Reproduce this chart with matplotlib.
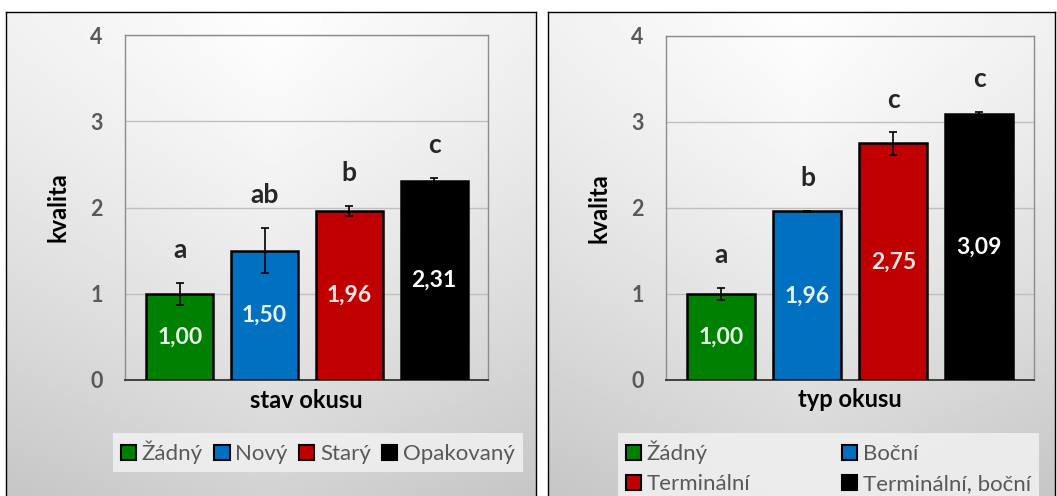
import numpy as np
import matplotlib
matplotlib.use('Agg')
import matplotlib.pyplot as plt
from matplotlib.patches import Patch

plt.rcParams['font.family'] = ['Lato', 'DejaVu Sans']

# ── data ──────────────────────────────────────────────────────────────────
cats_left   = ['Žádný', 'Nový', 'Starý', 'Opakovaný']
vals_left   = [1.00, 1.50, 1.96, 2.31]
errs_left   = [0.13, 0.26, 0.06, 0.03]
lets_left   = ['a', 'ab', 'b', 'c']

cats_right  = ['Žádný', 'Boční', 'Terminální', 'Terminální, boční']
vals_right  = [1.00, 1.96, 2.75, 3.09]
errs_right  = [0.07, 0.01, 0.13, 0.03]
lets_right  = ['a', 'b', 'c', 'c']

yticks = [0, 1, 2, 3, 4]

BAR_COLORS = ['#008000', '#0070c0', '#c00000', '#000000']
LBL_COLORS = ['#e6ffe6', '#e6f2ff', '#ffe6e6', '#ffffff']

W, H = 1057, 496
fig = plt.figure(figsize=(W / 100, H / 100), dpi=100)
fig.patch.set_facecolor('white')


def px(x0, y0, x1, y1):
    """pixel box (top-left origin) -> figure rect"""
    return [x0 / W, 1 - y1 / H, (x1 - x0) / W, (y1 - y0) / H]


# ── panel backgrounds (gradient + border) ─────────────────────────────────
def panel(x0, x1):
    bg = fig.add_axes(px(x0, 12, x1, 500), zorder=0)
    yy, xx = np.mgrid[0:1:200j, 0:1:200j]
    g = 0.995 - 0.17 * yy ** 1.3 - 0.05 * np.abs(xx - 0.5) * 2
    bg.imshow(g, cmap='gray', vmin=0, vmax=1, aspect='auto',
              extent=(0, 1, 0, 1), origin='upper', interpolation='bilinear')
    bg.set_xlim(0, 1); bg.set_ylim(0, 1)
    bg.set_xticks([]); bg.set_yticks([])
    for s in bg.spines.values():
        s.set_color('black'); s.set_linewidth(1.0)


panel(6, 536)
panel(548, 1055)


def chart(rect, cats, vals, errs, lets, xlabel, legend_box, ncol, colspace, order):
    ax = fig.add_axes(rect, zorder=2)
    ax.patch.set_alpha(0)
    x = np.arange(len(cats))
    ax.bar(x, vals, width=0.79, color=BAR_COLORS, edgecolor='black',
           linewidth=1.8, zorder=3)
    ax.errorbar(x, vals, yerr=errs, fmt='none', ecolor='black',
                elinewidth=1.2, capsize=3.2, capthick=1.2, zorder=4)
    for xi, v, e, l, lc in zip(x, vals, errs, lets, LBL_COLORS):
        ax.text(xi, v / 2, f'{v:.2f}'.replace('.', ','), ha='center',
                va='center', fontsize=16.5, fontweight='bold', color=lc, zorder=5)
        ax.text(xi, v + e + 0.38, l, ha='center', va='center', fontsize=19,
                fontweight='bold', color='#262626', zorder=5)

    ax.set_xlim(-0.645, 3.635)
    ax.set_ylim(0, 4)
    ax.set_yticks(yticks)
    ax.set_yticklabels([str(t) for t in yticks], fontsize=15.5,
                       fontweight='bold', color='#595959')
    ax.tick_params(axis='y', length=0, pad=16)
    ax.set_xticks([])
    ax.yaxis.grid(True, color='#bfbfbf', lw=1.0, zorder=0)
    ax.set_axisbelow(True)
    for name in ('top', 'right', 'left'):
        ax.spines[name].set_color('#8c8c8c'); ax.spines[name].set_linewidth(1.0)
    ax.spines['bottom'].set_color('#404040'); ax.spines['bottom'].set_linewidth(1.4)

    ax.set_ylabel('kvalita', fontsize=17, fontweight='bold', color='black')
    ax.yaxis.set_label_coords(-0.152, 0.5)
    ax.set_xlabel(xlabel, fontsize=17, fontweight='bold', color='black')
    ax.xaxis.set_label_coords(0.5, -0.058)
    ax.xaxis.label.set_va('center')

    handles = [Patch(facecolor=c, edgecolor='black', linewidth=1.5) for c in BAR_COLORS]
    handles = [handles[i] for i in order]
    labels = [cats[i] for i in order]
    leg = fig.legend(handles, labels, loc='upper left',
                     bbox_to_anchor=legend_box, ncol=ncol, fontsize=16,
                     frameon=True, fancybox=False, handlelength=0.7,
                     handleheight=0.7, handletextpad=0.25, columnspacing=colspace,
                     labelspacing=0.45, borderpad=0.35, borderaxespad=0)
    leg.get_frame().set_facecolor('#efefef')
    leg.get_frame().set_edgecolor('none')
    leg.get_frame().set_alpha(0.9)
    leg.set_zorder(3)
    for t in leg.get_texts():
        t.set_color('#595959')
    return ax


chart(px(125, 35, 488, 380), cats_left, vals_left, errs_left, lets_left,
      'stav okusu', (113 / W, 1 - 433 / H), 4, 0.5, [0, 1, 2, 3])
chart(px(666, 36, 1034, 380), cats_right, vals_right, errs_right, lets_right,
      'typ okusu', (618 / W, 1 - 433 / H), 2, 4.1, [0, 2, 1, 3])

fig.savefig('out.png', dpi=100, facecolor=fig.get_facecolor())
